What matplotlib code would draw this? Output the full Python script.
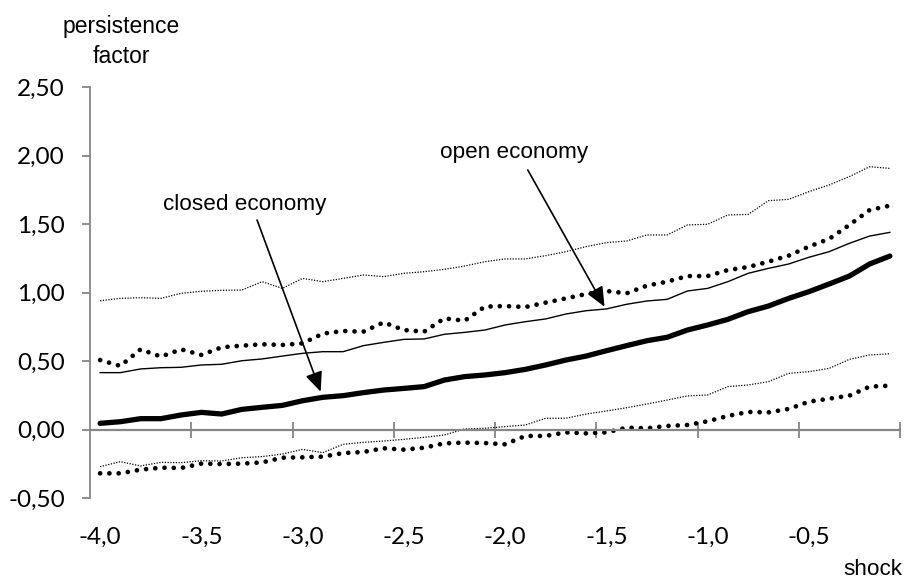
import matplotlib
matplotlib.use("Agg")
import matplotlib.pyplot as plt
import numpy as np

# shock values (-4.0 ... -0.1, step 0.1)
shock = np.round(np.arange(-4.0, -0.05, 0.1), 2)

closed_econ = [0.045, 0.057, 0.079, 0.079, 0.106, 0.125, 0.113, 0.147, 0.162, 0.176,
               0.210, 0.235, 0.247, 0.269, 0.288, 0.300, 0.313, 0.361, 0.386, 0.398,
               0.415, 0.439, 0.471, 0.507, 0.536, 0.575, 0.612, 0.648, 0.673, 0.726,
               0.763, 0.804, 0.860, 0.901, 0.957, 1.006, 1.062, 1.120, 1.208, 1.266]
open_econ = [0.415, 0.415, 0.442, 0.451, 0.454, 0.471, 0.476, 0.502, 0.515, 0.536,
             0.556, 0.568, 0.568, 0.612, 0.636, 0.658, 0.661, 0.695, 0.709, 0.726,
             0.763, 0.787, 0.807, 0.843, 0.867, 0.880, 0.914, 0.938, 0.950, 1.011,
             1.030, 1.079, 1.140, 1.176, 1.208, 1.257, 1.298, 1.359, 1.412, 1.439]
closed_upper = [0.507, 0.464, 0.585, 0.532, 0.585, 0.544, 0.600, 0.612, 0.622, 0.617,
                0.629, 0.700, 0.719, 0.714, 0.782, 0.726, 0.714, 0.811, 0.794, 0.897,
                0.901, 0.894, 0.926, 0.957, 0.989, 1.011, 0.994, 1.050, 1.079, 1.120,
                1.120, 1.164, 1.186, 1.225, 1.269, 1.335, 1.391, 1.493, 1.602, 1.634]
closed_lower = [-0.320, -0.320, -0.293, -0.279, -0.281, -0.249, -0.252, -0.249, -0.240, -0.206,
                -0.203, -0.198, -0.172, -0.164, -0.137, -0.147, -0.133, -0.101, -0.096, -0.099,
                -0.108, -0.047, -0.047, -0.021, -0.028, -0.021, 0.013, 0.009, 0.026, 0.033,
                0.060, 0.099, 0.128, 0.125, 0.150, 0.203, 0.225, 0.247, 0.313, 0.320]
open_upper = [0.940, 0.957, 0.962, 0.957, 0.994, 1.009, 1.016, 1.018, 1.079, 1.030,
              1.103, 1.079, 1.103, 1.128, 1.116, 1.140, 1.152, 1.169, 1.193, 1.225,
              1.245, 1.245, 1.269, 1.298, 1.335, 1.364, 1.376, 1.420, 1.420, 1.493,
              1.498, 1.566, 1.570, 1.670, 1.680, 1.736, 1.785, 1.846, 1.918, 1.906]
open_lower = [-0.271, -0.235, -0.266, -0.240, -0.242, -0.228, -0.230, -0.206, -0.198, -0.179,
              -0.145, -0.169, -0.108, -0.094, -0.084, -0.072, -0.057, -0.040, 0.004, 0.009,
              0.021, 0.033, 0.082, 0.082, 0.113, 0.135, 0.159, 0.186, 0.215, 0.245,
              0.252, 0.313, 0.325, 0.349, 0.410, 0.422, 0.446, 0.512, 0.544, 0.553]

x_label_vals = [-4.0, -3.5, -3.0, -2.5, -2.0, -1.5, -1.0, -0.5]
x_labels = ["-4,0", "-3,5", "-3,0", "-2,5", "-2,0", "-1,5", "-1,0", "-0,5"]
y_ticks = [-0.5, 0.0, 0.5, 1.0, 1.5, 2.0, 2.5]
y_labels = ["-0,50", "0,00", "0,50", "1,00", "1,50", "2,00", "2,50"]

axis_grey = "#868686"
label_font = "Liberation Sans"
tick_font = "Lato"

fig = plt.figure(figsize=(9.06, 5.8), dpi=100)
ax = fig.add_axes([90 / 906, 1 - 498 / 580, 810 / 906, 411 / 580])

# bands
ax.plot(shock, open_upper, color="black", lw=0.9, linestyle=(0, (1, 1.2)))
ax.plot(shock, open_lower, color="black", lw=0.9, linestyle=(0, (1, 1.2)))
ax.plot(shock, closed_upper, color="black", lw=3.4, linestyle=(0, (0.01, 1.95)),
        dash_capstyle="round")
ax.plot(shock, closed_lower, color="black", lw=3.4, linestyle=(0, (0.01, 1.95)),
        dash_capstyle="round")
# main lines
ax.plot(shock, open_econ, color="black", lw=1.0)
ax.plot(shock, closed_econ, color="black", lw=3.8, solid_capstyle="round")

ax.set_xlim(-4.05, -0.05)
ax.set_ylim(-0.5, 2.5)

# spines
for s in ["top", "right"]:
    ax.spines[s].set_visible(False)
ax.spines["left"].set_color(axis_grey)
ax.spines["left"].set_linewidth(1.3)
ax.spines["bottom"].set_position(("data", 0))
ax.spines["bottom"].set_color(axis_grey)
ax.spines["bottom"].set_linewidth(1.6)

# y axis
ax.set_yticks(y_ticks)
ax.set_yticklabels(y_labels, fontfamily=tick_font, fontsize=17.5)
ax.tick_params(axis="y", direction="out", length=6, width=1.3, color=axis_grey, pad=12)

# x axis: tick marks between categories, labels at the bottom
ax.set_xticks(np.arange(1, 9) * 0.5 - 4.05)
ax.tick_params(axis="x", direction="inout", length=11.5, width=1.3, color=axis_grey,
               labelbottom=False)
for v, lbl in zip(x_label_vals, x_labels):
    ax.annotate(lbl, (v, -0.5), xytext=(0, -28), textcoords="offset points",
                ha="center", va="center", fontfamily=tick_font, fontsize=17.5)

# annotations
arrow = dict(arrowstyle="-|>,head_length=0.8,head_width=0.35", mutation_scale=15,
             color="black", lw=1.2, shrinkA=0, shrinkB=0)
ax.annotate("", xy=(-2.911, 0.276), xytext=(-3.225, 1.529), arrowprops=arrow)
ax.text(-3.285, 1.602, "closed economy", ha="center", va="baseline",
        fontfamily=label_font, fontsize=16.2)
ax.annotate("", xy=(-1.509, 0.896), xytext=(-1.888, 1.894), arrowprops=arrow)
ax.text(-1.958, 1.98, "open economy", ha="center", va="baseline",
        fontfamily=label_font, fontsize=16.2)

fig.text(121 / 906, 1 - 33 / 580, "persistence", ha="center", va="baseline",
         fontfamily=label_font, fontsize=16.5)
fig.text(121 / 906, 1 - 63 / 580, "factor", ha="center", va="baseline",
         fontfamily=label_font, fontsize=16.5)
fig.text(902 / 906, 1 - 575 / 580, "shock", ha="right", va="baseline",
         fontfamily=label_font, fontsize=16.2)

fig.savefig("out.png", dpi=100)
